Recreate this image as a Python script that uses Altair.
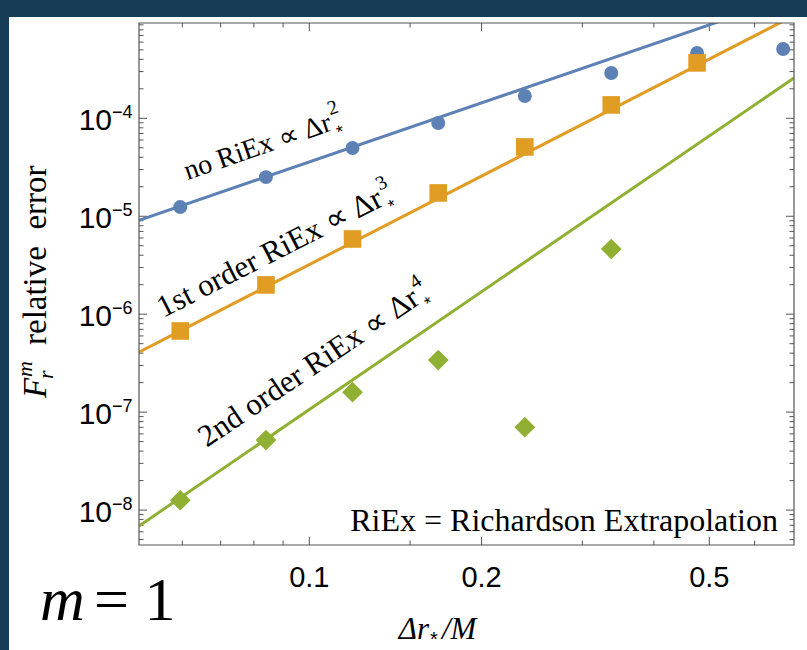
import altair as alt
import pandas as pd

# ---------------- data ----------------
dr_none = [0.0595, 0.084, 0.119, 0.168, 0.238, 0.337, 0.476, 0.673]
err_none = [1.24e-5, 2.51e-5, 4.97e-5, 8.95e-5, 1.69e-4, 2.90e-4, 4.65e-4, 5.1e-4]

dr_1st = [0.0595, 0.084, 0.119, 0.168, 0.238, 0.337, 0.476]
err_1st = [6.74e-7, 1.99e-6, 5.86e-6, 1.73e-5, 5.10e-5, 1.37e-4, 3.68e-4]

dr_2nd = [0.0595, 0.084, 0.119, 0.168, 0.238, 0.337]
err_2nd = [1.26e-8, 5.18e-8, 1.60e-7, 3.40e-7, 7.03e-8, 4.63e-6]

# power-law fit lines (end points)
fit_x = [0.0504, 0.703]
fit_none = [9.1e-6, 1.78e-3]
fit_1st = [4.1e-7, 1.12e-3]
fit_2nd = [6.87e-9, 2.58e-4]

series_names = ["none", "1st", "2nd"]
series_colors = ["#5E81B5", "#E19C24", "#8FB032"]

# line labels (anchor = end of "Δr", on the baseline)
lab_text = ["no RiEx \u221d \u0394r", "1st order RiEx \u221d \u0394r", "2nd order RiEx \u221d \u0394r"]
lab_sup = ["2", "3", "4"]
lab_x = [0.110, 0.1355, 0.157]
lab_y = [7.6e-5, 1.30e-5, 1.30e-6]
lab_angle = [341, 333, 326]
lab_size = [28, 31, 31]

# axes
x_domain = [0.0504, 0.703]
y_domain = [4.4e-9, 9.4e-4]
x_major = [0.1, 0.2, 0.5]
x_major_lab = ["0.1", "0.2", "0.5"]
x_minor = [0.06, 0.07, 0.08, 0.09, 0.15, 0.3, 0.4, 0.6]
y_major = [1e-8, 1e-7, 1e-6, 1e-5, 1e-4]
y_major_sup = ["\u22128", "\u22127", "\u22126", "\u22125", "\u22124"]
y_minor = [k * 10.0 ** n for n in range(-9, -3) for k in range(2, 10)
           if y_domain[0] <= k * 10.0 ** n <= y_domain[1]]

W, H = 655, 522
SERIF = "Liberation Serif"
SANS = "Liberation Sans"

xs = alt.Scale(type="log", domain=x_domain, nice=False)
ys = alt.Scale(type="log", domain=y_domain, nice=False)


def X(field="x"):
    return alt.X(f"{field}:Q", scale=xs, axis=None, title=None)


def Y(field="y"):
    return alt.Y(f"{field}:Q", scale=ys, axis=None, title=None)


one = pd.DataFrame({"a": [0]})

layers = []

# white panel over dark background
layers.append(
    alt.Chart(one).mark_rect(color="white").encode(
        x=alt.value(-130), x2=alt.value(668), y=alt.value(-6), y2=alt.value(627)
    )
)

# ticks (inward, all four sides)
tick_color = "#555555"
ymaj = pd.DataFrame({"y": y_major, "sup": y_major_sup})
ymin = pd.DataFrame({"y": y_minor})
xmaj = pd.DataFrame({"x": x_major, "lab": x_major_lab})
xmin = pd.DataFrame({"x": x_minor})
for df, ln in [(ymaj, 8), (ymin, 4.5)]:
    layers.append(alt.Chart(df).mark_rule(color=tick_color, strokeWidth=1).encode(
        y=Y(), x=alt.value(0), x2=alt.value(ln)))
    layers.append(alt.Chart(df).mark_rule(color=tick_color, strokeWidth=1).encode(
        y=Y(), x=alt.value(W), x2=alt.value(W - ln)))
for df, ln in [(xmaj, 8), (xmin, 4.5)]:
    layers.append(alt.Chart(df).mark_rule(color=tick_color, strokeWidth=1).encode(
        x=X(), y=alt.value(H), y2=alt.value(H - ln)))
    layers.append(alt.Chart(df).mark_rule(color=tick_color, strokeWidth=1).encode(
        x=X(), y=alt.value(0), y2=alt.value(ln)))

# fit lines
for name, fy, col in zip(series_names, [fit_none, fit_1st, fit_2nd], series_colors):
    df = pd.DataFrame({"x": fit_x, "y": fy})
    layers.append(alt.Chart(df).mark_line(color=col, strokeWidth=3, clip=True).encode(
        x=X(), y=Y()))

# data points
pts = [
    (dr_none, err_none, "circle", 195, series_colors[0]),
    (dr_1st, err_1st, "square", 310, series_colors[1]),
    (dr_2nd, err_2nd, "diamond", 430, series_colors[2]),
]
for xv, yv, shp, sz, col in pts:
    df = pd.DataFrame({"x": xv, "y": yv})
    layers.append(alt.Chart(df).mark_point(shape=shp, size=sz, filled=True, opacity=1,
                                           color=col).encode(x=X(), y=Y()))

# line labels
labdf = pd.DataFrame({"x": lab_x, "y": lab_y, "t": lab_text, "s": lab_sup,
                      "a": lab_angle, "fs": lab_size})
layers.append(alt.Chart(labdf).mark_text(align="right", baseline="alphabetic", font=SERIF,
                                         color="black").encode(
    x=X(), y=Y(), text="t:N", angle=alt.Angle("a:Q", scale=None),
    size=alt.Size("fs:Q", scale=None, legend=None)))
layers.append(alt.Chart(labdf).mark_text(align="left", baseline="alphabetic", font=SERIF,
                                         fontSize=20, dx=2, dy=-15, color="black").encode(
    x=X(), y=Y(), text="s:N", angle=alt.Angle("a:Q", scale=None)))
layers.append(alt.Chart(labdf).mark_text(align="left", baseline="alphabetic", font=SANS,
                                         fontSize=18, dx=3, dy=10, color="black").encode(
    x=X(), y=Y(), text=alt.value("*"), angle=alt.Angle("a:Q", scale=None)))

# y tick labels 10^n
layers.append(alt.Chart(ymaj).mark_text(align="right", baseline="alphabetic", font=SANS,
                                        fontSize=30, dy=12, color="black").encode(
    y=Y(), x=alt.value(-27), text=alt.value("10")))
layers.append(alt.Chart(ymaj).mark_text(align="left", baseline="alphabetic", font=SANS,
                                        fontSize=18, dy=0, color="black").encode(
    y=Y(), x=alt.value(-27), text="sup:N"))

# x tick labels
layers.append(alt.Chart(xmaj).mark_text(align="center", baseline="alphabetic", font=SANS,
                                        fontSize=29, color="black").encode(
    x=X(), y=alt.value(564), text="lab:N"))


def txt(s, x, y, size, align="left", style="normal", angle=0, dx=0, dy=0, font=SERIF):
    kw = dict(align=align, baseline="alphabetic", font=font, fontSize=size,
              fontStyle=style, color="black", dx=dx, dy=dy)
    if angle:
        kw["angle"] = angle
    return alt.Chart(one).mark_text(**kw).encode(
        x=alt.value(x), y=alt.value(y), text=alt.value(s))


# y title: F_r^m  relative  error
layers.append(txt("relative\u2002error", -93, 322, 33, angle=270))
layers.append(txt("F", -93, 375, 33, style="italic", angle=270))
layers.append(txt("m", -93, 375, 22, style="italic", angle=270, dx=21, dy=-14))
layers.append(txt("r", -93, 375, 22, style="italic", angle=270, dx=19, dy=7))

# x title: Δr_*/M
layers.append(txt("\u0394r", 290, 616, 31, align="right", style="italic"))
layers.append(txt("*", 290, 616, 20, align="left", dx=1, dy=7, font=SANS))
layers.append(txt("/M", 290, 616, 31, align="left", style="italic", dx=13))

# m = 1
layers.append(txt("m", -99, 597, 62, style="italic"))
layers.append(txt("= 1", -99, 597, 62, dx=54))

# note
layers.append(txt("RiEx = Richardson Extrapolation", 639, 508, 32, align="right"))

# frame
layers.append(alt.Chart(one).mark_rect(fillOpacity=0, stroke="#555555", strokeWidth=1.2).encode(
    x=alt.value(0), x2=alt.value(W), y=alt.value(0), y2=alt.value(H)))

chart = alt.layer(*layers).properties(
    width=W, height=H,
    padding={"left": 139, "top": 23, "right": 13, "bottom": 105},
    autosize=alt.AutoSizeParams(type="none"),
    background="#163d55",
).configure_view(stroke=None)

chart.save("out.html", embed_options={"renderer": "svg", "actions": False})
